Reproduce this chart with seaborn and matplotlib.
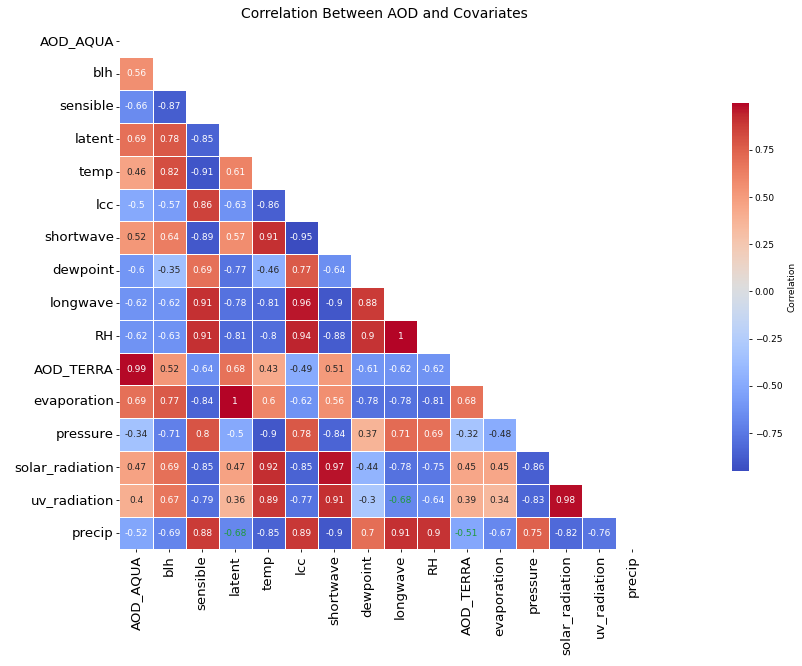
import numpy as np
import pandas as pd
import matplotlib
matplotlib.use("Agg")
import matplotlib.pyplot as plt
import matplotlib.ticker as mticker
import seaborn as sns

plt.rcParams["font.family"] = ["DejaVu Sans"]

variables = ["AOD_AQUA", "blh", "sensible", "latent", "temp", "lcc",
             "shortwave", "dewpoint", "longwave", "RH", "AOD_TERRA",
             "evaporation", "pressure", "solar_radiation", "uv_radiation",
             "precip"]

# lower triangle of the correlation matrix, row by row
blh = [0.56]
sensible = [-0.66, -0.87]
latent = [0.69, 0.78, -0.85]
temp = [0.46, 0.82, -0.91, 0.61]
lcc = [-0.5, -0.57, 0.86, -0.63, -0.86]
shortwave = [0.52, 0.64, -0.89, 0.57, 0.91, -0.95]
dewpoint = [-0.6, -0.35, 0.69, -0.77, -0.46, 0.77, -0.64]
longwave = [-0.62, -0.62, 0.91, -0.78, -0.81, 0.96, -0.9, 0.88]
rh = [-0.62, -0.63, 0.91, -0.81, -0.8, 0.94, -0.88, 0.9, 0.996]
aod_terra = [0.99, 0.52, -0.64, 0.68, 0.43, -0.49, 0.51, -0.61, -0.62, -0.62]
evaporation = [0.69, 0.77, -0.84, 0.998, 0.6, -0.62, 0.56, -0.78, -0.78,
               -0.81, 0.68]
pressure = [-0.34, -0.71, 0.8, -0.5, -0.9, 0.78, -0.84, 0.37, 0.71, 0.69,
            -0.32, -0.48]
solar_radiation = [0.47, 0.69, -0.85, 0.47, 0.92, -0.85, 0.97, -0.44, -0.78,
                   -0.75, 0.45, 0.45, -0.86]
uv_radiation = [0.4, 0.67, -0.79, 0.36, 0.89, -0.77, 0.91, -0.3, -0.68,
                -0.64, 0.39, 0.34, -0.83, 0.98]
precip = [-0.52, -0.69, 0.88, -0.68, -0.85, 0.89, -0.9, 0.7, 0.91, 0.9,
          -0.51, -0.67, 0.75, -0.82, -0.76]

# cells whose annotation is drawn in green (row, column)
green_cells = [("precip", "latent"), ("uv_radiation", "longwave"),
               ("precip", "AOD_TERRA")]

lower_rows = [[], blh, sensible, latent, temp, lcc, shortwave, dewpoint,
              longwave, rh, aod_terra, evaporation, pressure,
              solar_radiation, uv_radiation, precip]

n = len(variables)
corr = np.eye(n)
for i, row in enumerate(lower_rows):
    for j, v in enumerate(row):
        corr[i, j] = v
        corr[j, i] = v
corr = pd.DataFrame(corr, index=variables, columns=variables)

mask = np.triu(np.ones_like(corr, dtype=bool))

fig = plt.figure(figsize=(8.03, 6.66), dpi=100)
ax = fig.add_axes([0.1488, 0.175, 0.6589, 0.788])
cax = fig.add_axes([0.9116, 0.2928, 0.0212, 0.5527])

sns.heatmap(
    corr,
    mask=mask,
    cmap="coolwarm",
    annot=True,
    annot_kws={"size": 6.5},
    linewidths=0.5,
    linecolor="white",
    ax=ax,
    cbar_ax=cax,
    cbar_kws={"label": "Correlation"}
)

for t in ax.texts:
    x, y = t.get_position()
    cell = (variables[int(y)], variables[int(x)])
    if cell in green_cells:
        t.set_color("#1f9a3c")

ax.set_title("Correlation Between AOD and Covariates", fontsize=10, pad=5)
ax.set_xticklabels(variables, rotation=90, fontsize=9.6)
ax.set_yticklabels(variables, rotation=0, fontsize=9.6)
ax.tick_params(length=2.5, pad=1.5, width=0.6)

cax.yaxis.set_major_locator(mticker.MultipleLocator(0.25))
cax.tick_params(labelsize=6.5, length=2.5, pad=1.5, width=0.6)
cax.yaxis.label.set_size(6.5)

fig.savefig("out.png", dpi=100)
